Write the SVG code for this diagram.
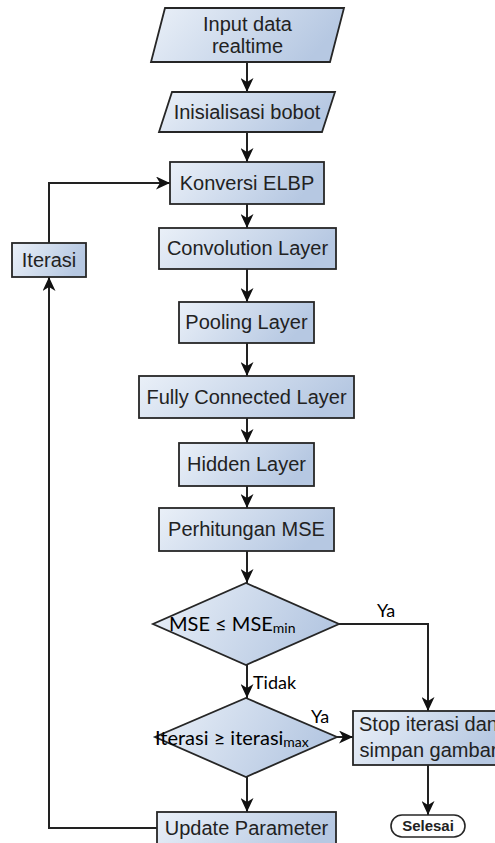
<svg xmlns="http://www.w3.org/2000/svg" width="495" height="843" viewBox="0 0 495 843">
  <defs>
    <linearGradient id="fillBlue" x1="0" y1="0" x2="1" y2="0.25">
      <stop offset="0" stop-color="#eaf0f8"/>
      <stop offset="1" stop-color="#b6c8e2"/>
    </linearGradient>
    <marker id="arrow" markerUnits="userSpaceOnUse" markerWidth="14" markerHeight="13" refX="14" refY="6.5" orient="auto">
      <path d="M0,0 L14,6.5 L0,13 L4,6.5 z" fill="#111"/>
    </marker>
    <style>
      .shape { fill: url(#fillBlue); stroke: #262626; stroke-width: 1.8; }
      .pill { fill: #ffffff; stroke: #262626; stroke-width: 1.6; }
      .lbl { font-family: "Liberation Sans", Arial, sans-serif; font-size: 20px; fill: #222; text-anchor: middle; }
      .small { font-family: "Liberation Sans", Arial, sans-serif; font-size: 15px; font-weight: bold; fill: #222; text-anchor: middle; }
      .cond { font-family: Lato, "Noto Sans", sans-serif; font-size: 18px; fill: #000; }
      .big { font-size: 20px; }
      .sub { font-size: 14px; }
      .edge-a { fill: none; stroke: #222; stroke-width: 2; marker-end: url(#arrow); }
    </style>
  </defs>

  <!-- connectors -->
  <g id="connectors">
    <line class="edge-a" x1="247" y1="62" x2="247" y2="92"/>
    <line class="edge-a" x1="247" y1="132" x2="247" y2="162"/>
    <line class="edge-a" x1="247" y1="204" x2="247" y2="228"/>
    <line class="edge-a" x1="247" y1="269" x2="247" y2="302"/>
    <line class="edge-a" x1="247" y1="343" x2="247" y2="376"/>
    <line class="edge-a" x1="247" y1="418" x2="247" y2="443"/>
    <line class="edge-a" x1="247" y1="486" x2="247" y2="508"/>
    <line class="edge-a" x1="247" y1="551" x2="247" y2="583"/>
    <line class="edge-a" x1="247" y1="665" x2="247" y2="698"/>
    <line class="edge-a" x1="247" y1="777" x2="247" y2="812"/>
    <polyline class="edge-a" points="339,624 428,624 428,711"/>
    <line class="edge-a" x1="337" y1="737" x2="353" y2="737"/>
    <line class="edge-a" x1="428" y1="765" x2="428" y2="815"/>
    <polyline class="edge-a" points="157,828 49,828 49,277"/>
    <polyline class="edge-a" points="49,243 49,183 170,183"/>
  </g>

  <g id="input-data">
    <polygon class="shape" points="165,8 344,8 330,62 151,62"/>
    <text class="lbl" x="247.5" y="31">Input data</text>
    <text class="lbl" x="247.5" y="53">realtime</text>
  </g>

  <g id="init-weights">
    <polygon class="shape" points="172,92 335,92 322,132 159,132"/>
    <text class="lbl" x="247" y="119">Inisialisasi bobot</text>
  </g>

  <g id="elbp">
    <rect class="shape" x="170" y="162" width="154" height="42"/>
    <text class="lbl" x="247" y="190">Konversi ELBP</text>
  </g>

  <g id="convolution">
    <rect class="shape" x="159" y="228" width="177" height="41"/>
    <text class="lbl" x="247.5" y="255">Convolution Layer</text>
  </g>

  <g id="pooling">
    <rect class="shape" x="179" y="302" width="135" height="41"/>
    <text class="lbl" x="246.5" y="329">Pooling Layer</text>
  </g>

  <g id="fully-connected">
    <rect class="shape" x="139" y="376" width="215" height="42"/>
    <text class="lbl" x="246.5" y="404">Fully Connected Layer</text>
  </g>

  <g id="hidden">
    <rect class="shape" x="179" y="443" width="135" height="43"/>
    <text class="lbl" x="246.5" y="471">Hidden Layer</text>
  </g>

  <g id="mse">
    <rect class="shape" x="159" y="508" width="175" height="43"/>
    <text class="lbl" x="246.5" y="536">Perhitungan MSE</text>
  </g>

  <g id="check-mse">
    <polygon class="shape" points="246,583 339,624 246,665 153,624"/>
    <text class="cond big" x="169" y="631">MSE ≤ MSE<tspan class="sub" dy="2">min</tspan></text>
  </g>

  <g id="check-iter">
    <polygon class="shape" points="246,698 337,737 246,777 155,737"/>
    <text class="cond big" x="155" y="745">Iterasi ≥ iterasi<tspan class="sub" dy="2">max</tspan></text>
  </g>

  <g id="stop">
    <rect class="shape" x="353" y="711" width="151" height="54"/>
    <text class="lbl" x="428.5" y="731">Stop iterasi dan</text>
    <text class="lbl" x="428.5" y="757">simpan gambar</text>
  </g>

  <g id="finish">
    <rect class="pill" x="391" y="815" width="74" height="22" rx="11" ry="11"/>
    <text class="small" x="428" y="831">Selesai</text>
  </g>

  <g id="update">
    <rect class="shape" x="157" y="812" width="179" height="40"/>
    <text class="lbl" x="246.5" y="835">Update Parameter</text>
  </g>

  <g id="iteration">
    <rect class="shape" x="12" y="243" width="74" height="34"/>
    <text class="lbl" x="49" y="267">Iterasi</text>
  </g>

  <!-- branch labels -->
  <g id="branch-labels">
    <text class="cond" x="377" y="617">Ya</text>
    <text class="cond" x="253" y="689">Tidak</text>
    <text class="cond" x="311" y="723">Ya</text>
  </g>
</svg>
